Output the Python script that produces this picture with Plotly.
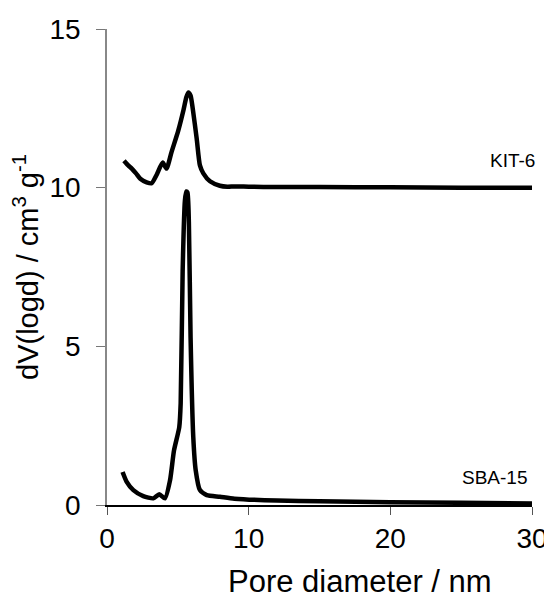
import plotly.graph_objects as go

# KIT-6 pore size distribution (offset +10)
kit_x = [1.2, 1.5, 1.75, 2.05, 2.35, 2.8, 3.15, 3.5, 3.93, 4.2, 4.56, 5.03, 5.4, 5.6, 5.74, 5.9, 6.05, 6.33, 6.56, 6.8, 7.27, 7.97, 8.5, 9.0, 10, 12, 15, 20, 25, 30]
kit_y = [10.85, 10.7, 10.6, 10.45, 10.28, 10.17, 10.14, 10.4, 10.79, 10.6, 11.13, 11.8, 12.45, 12.85, 13.0, 12.9, 12.5, 11.55, 10.7, 10.45, 10.2, 10.06, 10.03, 10.04, 10.03, 10.02, 10.02, 10.01, 10.0, 10.0]

# SBA-15 pore size distribution
sba_x = [1.1, 1.39, 1.86, 2.56, 3.27, 3.69, 4.09, 4.45, 4.73, 5.1, 5.2, 5.34, 5.5, 5.6, 5.68, 5.78, 5.9, 6.09, 6.26, 6.56, 7.04, 7.97, 9.0, 12, 15, 20, 25, 30]
sba_y = [1.04, 0.73, 0.47, 0.28, 0.21, 0.34, 0.21, 0.78, 1.72, 2.45, 3.2, 7.37, 9.6, 9.88, 9.85, 8.9, 5.28, 2.14, 1.1, 0.47, 0.31, 0.26, 0.2, 0.14, 0.12, 0.09, 0.07, 0.05]

labels = ["KIT-6", "SBA-15"]
label_y = [10.0, 0.0]
label_dx = [5, -3]

x_ticks = [0, 10, 20, 30]
y_ticks = [0, 5, 10, 15]

FONT = "Liberation Sans, Arial, sans-serif"

fig = go.Figure()
for xs, ys in [(kit_x, kit_y), (sba_x, sba_y)]:
    fig.add_trace(go.Scatter(x=xs, y=ys, mode="lines",
                             line=dict(color="black", width=4.5, shape="spline", smoothing=0.6),
                             showlegend=False, hoverinfo="skip"))

for lab, ly, dx in zip(labels, label_y, label_dx):
    fig.add_annotation(x=30, y=ly, xref="x", yref="y", text=lab, showarrow=False,
                       xanchor="right", yanchor="bottom", yshift=15, xshift=dx,
                       font=dict(family=FONT, size=19, color="black"))

# x-axis title (placed as in the reference, right of the plot centre)
fig.add_annotation(x=(360 - 107) / 425, y=0, xref="paper", yref="paper",
                   text="Pore diameter / nm", showarrow=False,
                   xanchor="center", yanchor="top", yshift=-57,
                   font=dict(family=FONT, size=31, color="black"))

# page body adds an 8px offset; the figure is sized to fit the 552x601 window
fig.update_layout(
    width=544, height=593,
    margin=dict(l=99, r=20, t=21, b=96),
    plot_bgcolor="white", paper_bgcolor="white",
    font=dict(family=FONT, color="black"),
)
fig.update_xaxes(range=[0, 30], tickvals=x_ticks, ticks="outside", ticklen=8, tickcolor="#555",
                 showline=True, linecolor="black", linewidth=1.5, showgrid=False, zeroline=False,
                 automargin=False,
                 tickfont=dict(size=28, family=FONT, color="black"))
fig.update_yaxes(range=[0, 15], tickvals=y_ticks, ticks="outside", ticklen=9, tickcolor="#777",
                 showline=True, linecolor="#888", linewidth=1.5, showgrid=False, zeroline=False,
                 automargin=False, ticklabelstandoff=10,
                 tickfont=dict(size=28, family=FONT, color="black"),
                 title=dict(text="dV(logd) / cm<sup>3</sup> g<sup>-1</sup>", font=dict(size=29, family=FONT, color="black"), standoff=13))

fig.write_html("out.html")
